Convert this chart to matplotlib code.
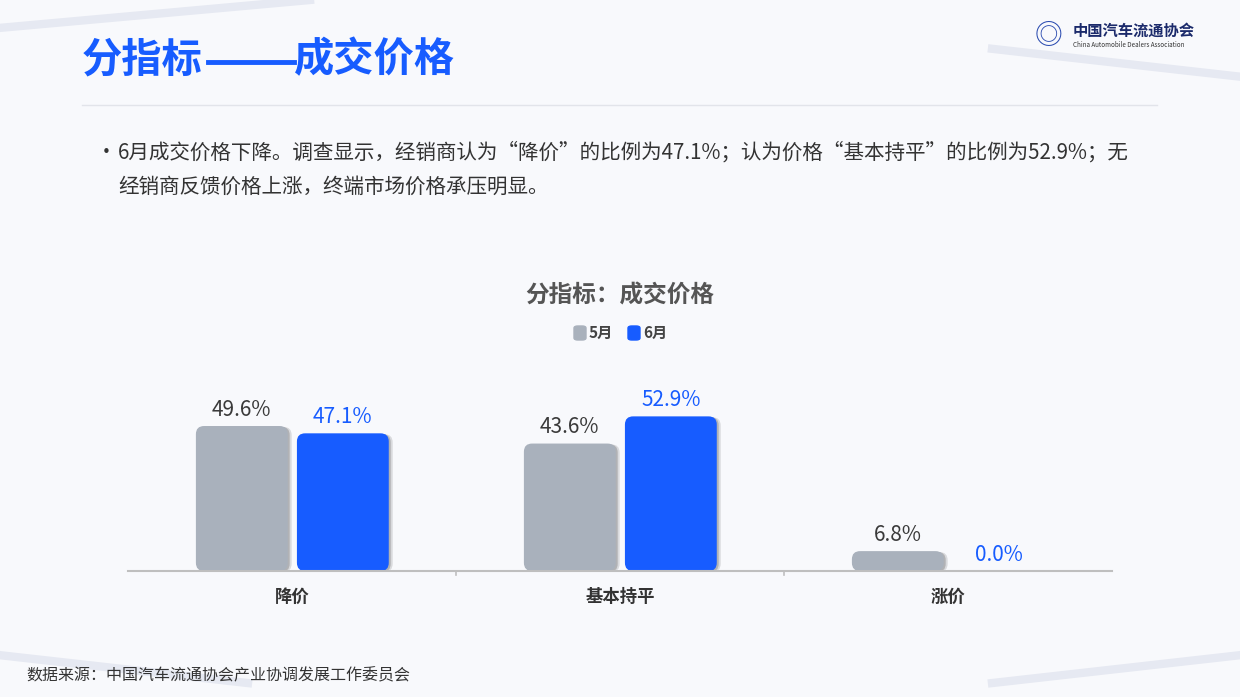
import matplotlib.pyplot as plt
from matplotlib.patches import FancyBboxPatch

plt.rcParams['font.family'] = ['Noto Sans CJK SC', 'DejaVu Sans']

categories = ['降价', '基本持平', '涨价']
may_vals = [49.6, 43.6, 6.8]
jun_vals = [47.1, 52.9, 0.0]
series_names = ['5月', '6月']

GRAY = '#a9b1bc'
BLUE = '#175cff'

fig = plt.figure(figsize=(12.4, 6.97), dpi=100)
fig.patch.set_facecolor('#f8f9fc')

# faint background strokes
for xs, ys in [([0.0, 0.25], [0.96, 1.0]), ([0.8, 1.0], [0.93, 0.89]),
               ([0.0, 0.2], [0.06, 0.02]), ([0.8, 1.0], [0.02, 0.06])]:
    fig.add_artist(plt.Line2D(xs, ys, color='#e6e9f2', lw=6, transform=fig.transFigure, zorder=0))

# title, with the long dash drawn as a line so it stays continuous
fig.text(82/1240, 1 - 60/697, '分指标', color=BLUE, fontsize=29,
         fontweight='bold', va='center', ha='left')
fig.add_artist(plt.Line2D([208/1240, 294/1240], [1 - 62/697] * 2, color=BLUE, lw=3.5,
                          transform=fig.transFigure))
fig.text(294/1240, 1 - 60/697, '成交价格', color=BLUE, fontsize=29,
         fontweight='bold', va='center', ha='left')
fig.add_artist(plt.Line2D([82/1240, 1157/1240], [1 - 105/697] * 2, color='#e2e4ea',
                          lw=1, transform=fig.transFigure))
fig.text(1073/1240, 1 - 31/697, '中国汽车流通协会', fontsize=11, fontweight='bold',
         color='#1b2a6b', va='center')
fig.text(1073/1240, 1 - 45/697, 'China Automobile Dealers Association', fontsize=4.5,
         color='#333', va='center')
fig.text(1048/1240, 1 - 36/697, '◎', fontsize=20, color='#2a4bb0', va='center', ha='center')

fig.text(96/1240, 1 - 153/697, '•', fontsize=15, color='#333', va='center')
fig.text(118/1240, 1 - 153/697,
         '6月成交价格下降。调查显示，经销商认为“降价”的比例为47.1%；认为价格“基本持平”的比例为52.9%；无',
         fontsize=14.8, color='#333', va='center')
fig.text(118/1240, 1 - 187/697, '经销商反馈价格上涨，终端市场价格承压明显。',
         fontsize=14.8, color='#333', va='center')

fig.text(620/1240, 1 - 296/697, '分指标：成交价格', fontsize=17, fontweight='bold',
         color='#555', ha='center', va='center')
# legend
for i, (name, col) in enumerate(zip(series_names, [GRAY, BLUE])):
    x0 = (574 + i * 54) / 1240
    fig.add_artist(FancyBboxPatch((x0, 1 - 340/697), 12/1240, 14/697,
                                  boxstyle='round,pad=0,rounding_size=0.003',
                                  transform=fig.transFigure, color=col))
    fig.text(x0 + 15/1240, 1 - 333/697, name, fontsize=11, fontweight='bold',
             color='#444', va='center')

ax = fig.add_axes([128/1240, 126/697, 984/1240, 171/697])
ax.set_facecolor('none')
ax.set_xlim(-0.5, 2.5)
ax.set_ylim(0, 58.5)
for s in ['top', 'right', 'left']:
    ax.spines[s].set_visible(False)
ax.spines['bottom'].set_color('#bfbfbf')
ax.spines['bottom'].set_linewidth(1.5)
ax.set_yticks([])
ax.set_xticks(range(len(categories)))
ax.set_xticklabels(categories, fontsize=12.5, fontweight='bold', color='#333')
ax.tick_params(axis='x', length=0, pad=12)
for b in [0.5, 1.5]:
    ax.plot([b, b], [0, -1.2], color='#bfbfbf', lw=1.2, clip_on=False)

w = 0.28
aspect = 58.5 / 3.0 * (984 / 171)
for vals, off, col, tcol in [(may_vals, -0.153, GRAY, '#3a3a3a'), (jun_vals, 0.155, BLUE, BLUE)]:
    for i, v in enumerate(vals):
        x = i + off - w / 2
        if v > 0:
            for sh, a in [(0.012, 0.12), (0.006, 0.18)]:
                ax.add_patch(FancyBboxPatch((x + sh, -0.3), w, v,
                             boxstyle='round,pad=0,rounding_size=0.025',
                             mutation_aspect=aspect, color='black', alpha=a, lw=0, zorder=1))
            ax.add_patch(FancyBboxPatch((x, 0), w, v, boxstyle='round,pad=0,rounding_size=0.025',
                                        mutation_aspect=aspect, color=col, lw=0, zorder=2))
        ax.text(i + off, v + 1.8, f'{v:.1f}%', ha='center', va='bottom', fontsize=15,
                color=tcol, clip_on=False)

fig.text(26/1240, 1 - 676/697, '数据来源：中国汽车流通协会产业协调发展工作委员会',
         fontsize=11.5, color='#333', va='center')

fig.savefig('out.png', dpi=100, facecolor=fig.get_facecolor())
